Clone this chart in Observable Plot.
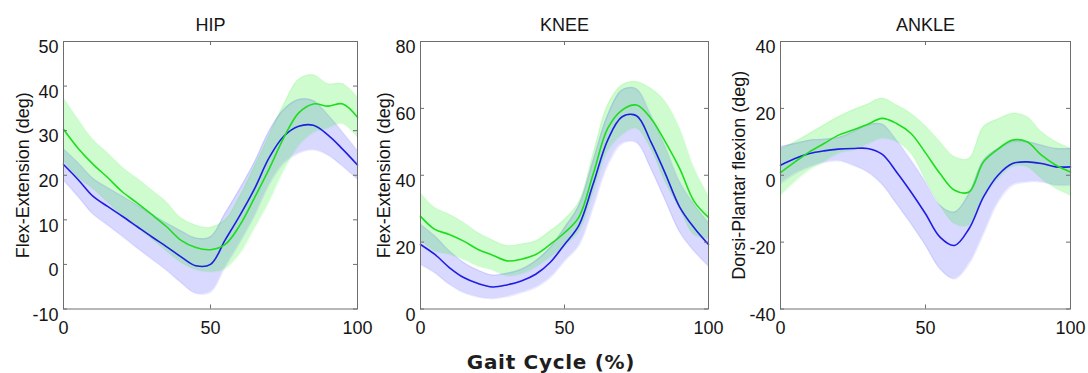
<!DOCTYPE html>
<html>
<head>
<meta charset="utf-8">
<script src="https://cdn.jsdelivr.net/npm/d3@7"></script>
<script src="https://cdn.jsdelivr.net/npm/@observablehq/plot@0.6"></script>
<style>
  html, body { margin: 0; padding: 0; background: #fff; }
  #root { position: relative; width: 1088px; height: 373px; overflow: hidden; background: #fff; }
  .panel { position: absolute; top: 0; }
  .panel svg { background: transparent; }
  #xlabel { position: absolute; left: 551px; top: 352px; transform: translateX(-50%);
    font-family: "DejaVu Sans", Verdana, sans-serif; font-weight: bold; font-size: 20px; line-height: 21px;
    letter-spacing: 0.7px; color: #1e1e1e; white-space: nowrap; }
</style>
</head>
<body>
<div id="root"><div id="xlabel">Gait Cycle (%)</div></div>
<script>
// ---- data (gait cycle %, mean and SD bands) ----
const gait = [0, 5, 10, 15, 20, 25, 30, 35, 40, 45, 50, 55, 60, 65, 70, 75, 80, 85, 90, 95, 100];
const xTicks = [0, 50, 100];

const panelTitles = ["HIP", "KNEE", "ANKLE"];
const yLabels = ["Flex-Extension (deg)", "Flex-Extension (deg)", "Dorsi-Plantar flexion (deg)"];
const hipYTicks = [-10, 0, 10, 20, 30, 40, 50];
const kneeYTicks = [0, 20, 40, 60, 80];
const ankleYTicks = [-40, -20, 0, 20, 40];

// HIP
const hipGreenMean = [30.3, 26.0, 22.5, 19.5, 16.3, 13.8, 11.2, 8.5, 5.4, 3.8, 3.3, 4.5, 8.8, 15.0, 21.5, 28.5, 34.0, 36.0, 35.5, 36.0, 33.0];
const hipGreenSd   = [7, 6.5, 5.5, 5.5, 5.5, 5.5, 5.5, 5.5, 5, 5, 5, 5.5, 6.5, 7, 7.5, 7.5, 7.5, 6.5, 5, 4.5, 4.5];
const hipBlueMean  = [22.4, 19.0, 15.3, 13.0, 10.8, 8.5, 6.2, 4.0, 1.7, -0.3, 0.0, 5.5, 11.0, 17.0, 24.0, 28.8, 31.0, 31.2, 29.0, 25.8, 22.3];
const hipBlueSd    = [3.5, 3.8, 4, 4.2, 4.5, 4.8, 5, 5.3, 5.8, 6.2, 6.2, 6, 6, 6, 6, 6, 6, 5.5, 4.5, 3.8, 3.2];

// KNEE
const kneeGreenMean = [27.7, 23.8, 22.3, 20.3, 17.8, 16.1, 14.4, 14.9, 16.3, 19.3, 22.8, 27.5, 40.5, 54.0, 59.5, 61.0, 57.0, 50.0, 42.0, 32.2, 27.4];
const kneeGreenSd   = [7, 6.5, 6, 5.5, 5, 4.5, 4.5, 4.5, 4, 4, 4, 4.5, 6, 7, 7.5, 7, 9, 12, 12, 10, 6.5];
const kneeBlueMean  = [19.3, 16.3, 12.4, 9.4, 7.6, 6.6, 7.2, 8.4, 10.4, 13.9, 19.3, 25.0, 37.5, 50.5, 57.5, 57.8, 50.0, 40.5, 30.5, 24.3, 19.3];
const kneeBlueSd    = [6, 5.5, 5, 4.5, 4, 3.5, 3.5, 3.5, 4, 4.5, 5, 6, 7, 7.5, 8, 8, 8, 8, 7.5, 7, 6.5];

// ANKLE
const ankleGreenMean = [0.8, 4, 7, 9.5, 12, 13.5, 15.2, 17, 15.5, 12.5, 6.7, 0.5, -4.5, -5, 4, 7.8, 10.5, 10, 6, 3, 1];
const ankleGreenSd   = [7, 6, 5.5, 5.5, 5.5, 6, 6, 6, 5.5, 6, 8, 9.5, 10, 10, 10.5, 9, 8, 7.5, 7, 7, 7];
const ankleBlueMean  = [3, 5, 6.5, 7.3, 7.8, 8, 8, 6.3, 1, -5, -11.5, -18.5, -21, -16, -6.5, 0, 3.5, 4, 3.5, 2.5, 2.5];
const ankleBlueSd    = [5.5, 4.5, 4, 3.5, 3.5, 5, 7, 9, 9.5, 9.5, 9.5, 9.5, 10, 10.5, 11, 8, 6.5, 6, 5.5, 5.5, 5.5];

// ---- styling / layout ----
const GREEN_LINE = "#1edc1e", GREEN_FILL = "#00f000";
const BLUE_LINE = "#1e1ee0", BLUE_FILL = "#0000ff";
const FRAME = "#6e6e6e";
const TEXT = "#151515";
const FS = 18;
const TOP = 41, BOTTOM = 308.5, H = 342;

const panels = [
  {title: panelTitles[0], ylabel: yLabels[0], domain: [-10, 50], yTicks: hipYTicks,
   gm: hipGreenMean, gs: hipGreenSd, bm: hipBlueMean, bs: hipBlueSd,
   left: 0, width: 374, ml: 63, fw: 294, labelDx: -40.5},
  {title: panelTitles[1], ylabel: yLabels[1], domain: [0, 80], yTicks: kneeYTicks,
   gm: kneeGreenMean, gs: kneeGreenSd, bm: kneeBlueMean, bs: kneeBlueSd,
   left: 362, width: 362, ml: 58, fw: 288, labelDx: -36},
  {title: panelTitles[2], ylabel: yLabels[2], domain: [-40, 40], yTicks: ankleYTicks,
   gm: ankleGreenMean, gs: ankleGreenSd, bm: ankleBlueMean, bs: ankleBlueSd,
   left: 724, width: 364, ml: 56, fw: 290, labelDx: -41}
];

const root = document.getElementById("root");
const fh = BOTTOM - TOP;

for (const p of panels) {
  const green = gait.map((x, i) => ({x, mean: p.gm[i], lo: p.gm[i] - p.gs[i], hi: p.gm[i] + p.gs[i]}));
  const blue  = gait.map((x, i) => ({x, mean: p.bm[i], lo: p.bm[i] - p.bs[i], hi: p.bm[i] + p.bs[i]}));
  const curve = "catmull-rom";
  const chart = Plot.plot({
    width: p.width, height: H,
    marginLeft: p.ml, marginRight: p.width - p.ml - p.fw,
    marginTop: TOP, marginBottom: H - BOTTOM,
    style: {fontFamily: "'Liberation Sans', Arial, sans-serif", fontSize: FS + "px", color: TEXT, background: "transparent", overflow: "visible"},
    x: {domain: [0, 100]},
    y: {domain: p.domain},
    marks: [
      Plot.areaY(blue, {x: "x", y1: "lo", y2: "hi", fill: BLUE_FILL, fillOpacity: 0.15, curve, clip: true}),
      Plot.areaY(green, {x: "x", y1: "lo", y2: "hi", fill: GREEN_FILL, fillOpacity: 0.19, curve, clip: true}),
      Plot.lineY(green, {x: "x", y: "hi", stroke: GREEN_FILL, strokeOpacity: 0.06, curve, clip: true}),
      Plot.lineY(green, {x: "x", y: "lo", stroke: GREEN_FILL, strokeOpacity: 0.06, curve, clip: true}),
      Plot.lineY(blue, {x: "x", y: "hi", stroke: BLUE_FILL, strokeOpacity: 0.08, curve, clip: true}),
      Plot.lineY(blue, {x: "x", y: "lo", stroke: BLUE_FILL, strokeOpacity: 0.08, curve, clip: true}),
      Plot.lineY(blue, {x: "x", y: "mean", stroke: BLUE_LINE, strokeWidth: 1.6, curve}),
      Plot.lineY(green, {x: "x", y: "mean", stroke: GREEN_LINE, strokeWidth: 1.6, curve}),
      Plot.frame({stroke: FRAME}),
      // inward tick marks on all four sides
      Plot.tickY(p.yTicks, {y: d => d, insetRight: p.fw - 4, stroke: FRAME}),
      Plot.tickY(p.yTicks, {y: d => d, insetLeft: p.fw - 4, stroke: FRAME}),
      Plot.tickX(xTicks, {x: d => d, insetTop: fh - 4, stroke: FRAME}),
      Plot.tickX(xTicks, {x: d => d, insetBottom: fh - 4, stroke: FRAME}),
      Plot.axisY({ticks: p.yTicks, tickSize: 0, tickPadding: 5, dy: 6, tickFormat: d => String(d), fontSize: FS, label: null}),
      Plot.axisX({ticks: xTicks, tickSize: 0, tickPadding: 12, tickFormat: d => String(d), fontSize: FS, label: null}),
      Plot.text([p.title], {frameAnchor: "top", dy: -16, fontSize: FS, fill: TEXT, textAnchor: "middle", lineAnchor: "middle"}),
      Plot.text([p.ylabel], {frameAnchor: "left", dx: p.labelDx, rotate: -90, fontSize: FS, fill: TEXT, textAnchor: "middle", lineAnchor: "middle"})
    ]
  });
  const div = document.createElement("div");
  div.className = "panel";
  div.style.left = p.left + "px";
  div.appendChild(chart);
  root.insertBefore(div, document.getElementById("xlabel"));
}
</script>
</body>
</html>
